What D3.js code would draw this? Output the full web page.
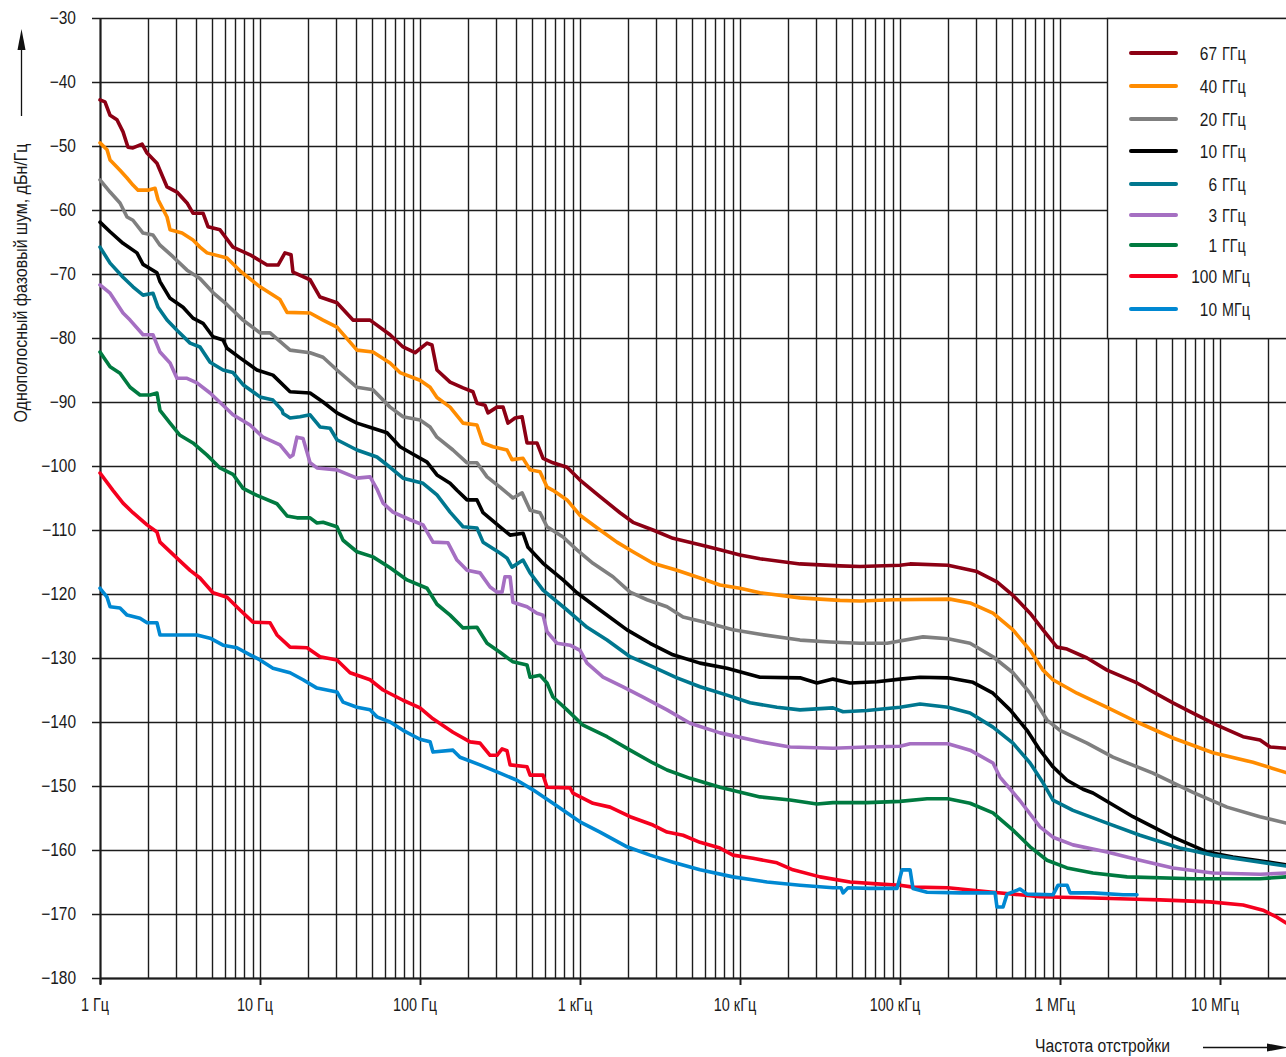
<!DOCTYPE html>
<html>
<head>
<meta charset="utf-8">
<script src="https://cdn.jsdelivr.net/npm/d3@7"></script>
<style>
    html, body { margin: 0; padding: 0; background: #fff; }
    svg { display: block; }
    text { font-family: 'Liberation Sans', Arial, sans-serif; font-size: 18px; fill: #1a1a1a; }
</style>
</head>
<body>
<svg id="chart" width="1286" height="1057"></svg>
<script>
// Each point: [offset frequency as log10(Hz), SSB phase noise in dBc/Hz]
const s67 = [[0,-42.8],[.031,-43.1],[.063,-45.2],[.106,-45.9],[.144,-47.8],[.175,-50.2],[.206,-50.3],[.263,-49.7],[.294,-51.1],[.356,-52.7],[.419,-56.4],[.481,-57.2],[.544,-58.9],[.581,-60.5],[.644,-60.5],[.675,-62.6],[.75,-63.1],[.831,-65.8],[.938,-67],[1.044,-68.6],[1.113,-68.6],[1.156,-66.7],[1.194,-67],[1.206,-69.7],[1.313,-70.9],[1.375,-73.6],[1.481,-74.5],[1.581,-77.2],[1.688,-77.2],[1.813,-79.5],[1.894,-81.4],[1.969,-82.3],[2.044,-80.8],[2.075,-81.1],[2.106,-85],[2.188,-86.9],[2.269,-87.8],[2.331,-88.4],[2.356,-90.2],[2.406,-90.5],[2.425,-91.7],[2.481,-90.8],[2.519,-90.8],[2.55,-93.3],[2.594,-92.5],[2.638,-92.3],[2.669,-96.4],[2.731,-96.4],[2.769,-98.8],[2.831,-99.5],[2.919,-100.2],[3,-102.2],[3.125,-104.8],[3.25,-107.3],[3.331,-108.8],[3.456,-110],[3.581,-111.3],[3.75,-112.3],[3.875,-113.1],[4,-113.9],[4.125,-114.5],[4.375,-115.3],[4.625,-115.6],[4.75,-115.7],[5,-115.5],[5.063,-115.3],[5.3,-115.5],[5.481,-116.5],[5.606,-118.1],[5.706,-120.2],[5.813,-123],[5.894,-125.6],[5.981,-128.3],[6.044,-128.6],[6.169,-130],[6.294,-131.9],[6.481,-133.9],[6.706,-137],[6.831,-138.6],[6.981,-140.5],[7.144,-142.3],[7.25,-142.8],[7.313,-143.9],[7.413,-144.1]];
const s40 = [[0,-49.5],[.044,-50.6],[.063,-52.2],[.125,-53.8],[.169,-55],[.206,-56.1],[.238,-56.9],[.3,-56.9],[.344,-56.6],[.363,-58.4],[.419,-61.1],[.438,-63.1],[.513,-63.6],[.581,-64.7],[.625,-65.8],[.669,-66.7],[.794,-67.5],[.875,-69.5],[1,-72],[1.125,-74],[1.169,-76],[1.313,-76.1],[1.394,-77.2],[1.481,-78.3],[1.606,-81.9],[1.706,-82.2],[1.813,-83.9],[1.875,-85.4],[2,-86.6],[2.063,-87.7],[2.106,-89.3],[2.188,-90.8],[2.269,-93.3],[2.356,-93.6],[2.394,-96.4],[2.456,-97],[2.544,-97.5],[2.575,-99],[2.644,-98.8],[2.688,-100.6],[2.75,-100.9],[2.794,-103.3],[2.831,-103.8],[2.919,-105.3],[3,-107.7],[3.125,-110],[3.231,-111.9],[3.331,-113.4],[3.456,-115.2],[3.606,-116.3],[3.75,-117.5],[3.875,-118.6],[4,-119.1],[4.125,-119.8],[4.375,-120.6],[4.625,-121],[4.75,-121.1],[4.956,-120.9],[5.313,-120.8],[5.438,-121.4],[5.581,-123],[5.706,-125.6],[5.813,-128.8],[5.894,-131.9],[5.956,-133.4],[6.106,-135.5],[6.294,-137.7],[6.481,-140],[6.706,-142.5],[6.956,-144.8],[7.206,-146.3],[7.413,-147.9]];
const s20 = [[0,-55.3],[.063,-57.2],[.125,-58.9],[.169,-61.1],[.206,-61.6],[.269,-63.6],[.331,-63.9],[.375,-65.5],[.456,-67.3],[.544,-69.4],[.625,-70.7],[.706,-72.9],[.794,-74.8],[.894,-77.2],[1,-79.2],[1.063,-79.2],[1.188,-81.9],[1.313,-82.3],[1.394,-83],[1.481,-85],[1.606,-87.7],[1.706,-88.1],[1.813,-90.8],[1.894,-92.3],[2,-92.8],[2.063,-93.9],[2.106,-95.5],[2.206,-97.5],[2.294,-99.5],[2.356,-99.5],[2.419,-101.7],[2.5,-103.3],[2.581,-105],[2.638,-104.2],[2.688,-106.9],[2.75,-107.3],[2.794,-109.5],[2.894,-111.1],[2.981,-113.1],[3.081,-115.2],[3.206,-117.3],[3.313,-119.7],[3.419,-120.9],[3.544,-122],[3.644,-123.6],[3.794,-124.5],[3.956,-125.6],[4.125,-126.3],[4.375,-127.2],[4.563,-127.5],[4.75,-127.7],[4.919,-127.7],[5.144,-126.7],[5.3,-127],[5.438,-127.7],[5.581,-129.8],[5.706,-132.3],[5.813,-135.5],[5.919,-139.7],[6,-141.3],[6.169,-143.3],[6.331,-145.5],[6.581,-148],[6.831,-151],[7.044,-153.3],[7.25,-154.8],[7.413,-155.8]];
const s10 = [[0,-61.9],[.063,-63.4],[.144,-65.2],[.231,-66.7],[.269,-68.5],[.356,-69.8],[.375,-71.2],[.438,-73.8],[.519,-75.2],[.581,-76.9],[.644,-77.7],[.706,-79.8],[.769,-80.3],[.794,-81.6],[.875,-83.1],[.981,-85],[1.081,-85.8],[1.188,-88.4],[1.313,-88.6],[1.394,-90],[1.481,-91.7],[1.606,-93.3],[1.706,-94.1],[1.794,-94.8],[1.875,-97],[1.938,-97.9],[2.044,-99.4],[2.106,-101.4],[2.188,-102.7],[2.231,-103.8],[2.294,-105.3],[2.356,-105.3],[2.394,-107.3],[2.5,-109.5],[2.563,-110.8],[2.644,-110.5],[2.675,-112.7],[2.769,-115.2],[2.894,-117.8],[2.981,-119.8],[3.125,-122.5],[3.294,-125.6],[3.438,-127.7],[3.581,-129.5],[3.75,-130.8],[3.919,-131.6],[4.125,-133],[4.375,-133.1],[4.481,-133.9],[4.581,-133.3],[4.688,-133.9],[4.856,-133.7],[5,-133.3],[5.125,-133],[5.3,-133.1],[5.456,-133.8],[5.581,-135.5],[5.688,-138.1],[5.794,-141.3],[5.875,-144.4],[5.956,-147],[6.044,-149.1],[6.144,-150.5],[6.206,-151.1],[6.456,-154.8],[6.706,-158],[6.919,-160.3],[7.081,-161.1],[7.413,-162.3]];
const s6 = [[0,-65.8],[.063,-68.3],[.144,-70.5],[.206,-72],[.269,-73.3],[.331,-73],[.363,-75.2],[.419,-77.2],[.481,-78.8],[.563,-80.8],[.625,-81.4],[.688,-83.8],[.769,-85],[.831,-85.4],[.894,-87.3],[1,-89.2],[1.081,-89.7],[1.138,-91.3],[1.144,-91.8],[1.188,-92.5],[1.25,-92.3],[1.313,-92],[1.375,-93.9],[1.438,-94.1],[1.481,-95.9],[1.606,-97.5],[1.731,-98.6],[1.813,-100.2],[1.894,-101.9],[2.019,-102.7],[2.106,-104.5],[2.188,-107.2],[2.269,-109.5],[2.356,-109.7],[2.394,-111.9],[2.5,-113.6],[2.544,-114.4],[2.575,-115.8],[2.644,-114.7],[2.688,-116.7],[2.769,-119.4],[2.919,-122.5],[3.044,-125.2],[3.169,-127.2],[3.313,-129.8],[3.456,-131.4],[3.606,-133.1],[3.75,-134.5],[3.919,-135.8],[4.063,-137],[4.231,-137.7],[4.375,-138.1],[4.581,-137.8],[4.644,-138.4],[4.794,-138.2],[5,-137.7],[5.125,-137.2],[5.3,-137.7],[5.438,-138.6],[5.581,-140.8],[5.706,-143.3],[5.813,-146.4],[5.894,-149.5],[5.956,-152.2],[6.081,-153.8],[6.294,-155.8],[6.5,-157.7],[6.75,-159.7],[6.956,-160.8],[7.169,-161.6],[7.413,-162.5]];
const s3 = [[0,-71.7],[.063,-73],[.144,-76.1],[.188,-77.2],[.269,-79.5],[.331,-79.5],[.375,-82.2],[.438,-83.9],[.481,-86.3],[.544,-86.3],[.606,-87],[.688,-88.6],[.769,-90.5],[.831,-92],[.938,-93.6],[1.019,-95.5],[1.125,-96.7],[1.188,-98.6],[1.206,-98.3],[1.231,-95.5],[1.269,-95.7],[1.313,-99.5],[1.356,-100.3],[1.481,-100.6],[1.606,-101.9],[1.688,-101.7],[1.731,-103.6],[1.769,-105.8],[1.831,-107.2],[1.938,-108.4],[2.019,-109.2],[2.081,-111.9],[2.175,-112],[2.231,-114.7],[2.294,-116.3],[2.375,-116.7],[2.438,-118.9],[2.481,-119.7],[2.513,-119.7],[2.531,-117.3],[2.563,-117.3],[2.581,-121.3],[2.669,-122],[2.731,-123],[2.769,-123.3],[2.794,-125.9],[2.856,-127.7],[2.938,-128],[3,-128.8],[3.044,-130.8],[3.144,-133],[3.269,-134.5],[3.394,-136.1],[3.544,-138.1],[3.688,-140.2],[3.875,-141.7],[4.125,-143.1],[4.313,-143.9],[4.581,-144.1],[4.794,-143.9],[5,-143.8],[5.063,-143.4],[5.3,-143.4],[5.438,-144.4],[5.581,-146.4],[5.625,-148.6],[5.75,-152.3],[5.875,-156.4],[5.956,-158],[6.081,-159.2],[6.294,-160.3],[6.5,-161.6],[6.706,-162.8],[6.956,-163.6],[7.25,-163.8],[7.413,-163.6]];
const s1 = [[0,-82.2],[.063,-84.5],[.125,-85.5],[.188,-87.7],[.25,-88.9],[.313,-88.9],[.356,-88.6],[.375,-91.3],[.438,-93.3],[.5,-95.2],[.581,-96.4],[.669,-98.3],[.75,-100.3],[.831,-101.3],[.894,-103.5],[.981,-104.6],[1.106,-105.9],[1.169,-107.8],[1.231,-108.1],[1.313,-108.1],[1.356,-108.9],[1.394,-108.8],[1.481,-109.5],[1.519,-111.6],[1.606,-113.4],[1.706,-114.2],[1.813,-115.9],[1.919,-117.8],[2.044,-119.1],[2.106,-121.6],[2.188,-123.3],[2.269,-125.3],[2.356,-125.2],[2.419,-127.7],[2.5,-129.1],[2.581,-130.6],[2.669,-131.1],[2.688,-133],[2.75,-132.7],[2.794,-133.9],[2.831,-136.1],[2.919,-138.1],[3.019,-140.5],[3.169,-142.3],[3.313,-144.4],[3.456,-146.4],[3.544,-147.5],[3.688,-148.8],[3.875,-150.2],[4.125,-151.7],[4.313,-152.2],[4.481,-152.8],[4.581,-152.6],[4.794,-152.6],[5,-152.4],[5.169,-152],[5.3,-152],[5.438,-152.7],[5.581,-154.2],[5.706,-156.9],[5.813,-159.5],[5.919,-161.6],[6.044,-162.8],[6.206,-163.6],[6.419,-164.2],[6.831,-164.5],[7.25,-164.5],[7.413,-164.2]];
const s100m = [[0,-101.1],[.081,-103.8],[.144,-105.8],[.206,-107.3],[.294,-109.2],[.356,-110.3],[.375,-111.9],[.481,-114.4],[.563,-116.3],[.625,-117.5],[.706,-119.8],[.794,-120.5],[.875,-122.5],[.956,-124.4],[1.063,-124.5],[1.106,-126.4],[1.188,-128.3],[1.294,-128.4],[1.375,-129.8],[1.481,-130.3],[1.563,-132.3],[1.688,-133.4],[1.769,-135],[1.894,-136.6],[2,-137.8],[2.081,-139.5],[2.206,-141.6],[2.313,-143.1],[2.375,-143.3],[2.438,-145.2],[2.481,-145.2],[2.513,-144.2],[2.544,-144.5],[2.563,-146.7],[2.669,-147],[2.688,-148.3],[2.769,-148.3],[2.794,-150.2],[2.938,-150.3],[2.956,-151.1],[3.081,-152.7],[3.188,-153.3],[3.313,-154.8],[3.456,-156.1],[3.544,-157.2],[3.644,-157.7],[3.75,-158.8],[3.875,-159.7],[3.956,-160.8],[4.081,-161.3],[4.231,-162],[4.331,-163.1],[4.5,-164.2],[4.688,-165],[4.856,-165.3],[5,-165.5],[5.081,-165.8],[5.3,-165.9],[5.581,-166.6],[5.75,-167],[5.875,-167.3],[6.206,-167.5],[6.481,-167.7],[6.625,-167.8],[6.938,-168.1],[7.144,-168.6],[7.269,-169.4],[7.356,-170.5],[7.413,-171.4]];
const s10m = [[0,-119.1],[.044,-120.5],[.063,-122],[.125,-122.2],[.169,-123.3],[.25,-123.8],[.294,-124.5],[.356,-124.5],[.375,-126.4],[.606,-126.4],[.688,-126.9],[.769,-128],[.856,-128.4],[.938,-129.5],[1,-130.3],[1.081,-131.6],[1.188,-132.3],[1.269,-133.4],[1.356,-134.7],[1.481,-135.3],[1.519,-136.9],[1.606,-137.7],[1.688,-138.1],[1.731,-139.2],[1.813,-140],[1.894,-141.3],[2,-142.7],[2.063,-143.1],[2.081,-144.7],[2.206,-144.4],[2.25,-145.5],[2.375,-146.7],[2.5,-148],[2.606,-149.1],[2.706,-150.6],[2.831,-152.7],[3,-155.6],[3.125,-157.2],[3.294,-159.5],[3.438,-160.8],[3.581,-161.9],[3.75,-163.1],[3.956,-164.2],[4.169,-165],[4.375,-165.5],[4.581,-165.9],[4.631,-165.9],[4.644,-166.7],[4.675,-165.9],[4.813,-166],[4.981,-166],[5.013,-163.1],[5.063,-163.1],[5.081,-166],[5.169,-166.6],[5.375,-166.7],[5.594,-166.7],[5.606,-168.9],[5.644,-168.9],[5.669,-166.9],[5.75,-166.1],[5.794,-166.9],[5.956,-167],[5.988,-165.5],[6.044,-165.5],[6.063,-166.7],[6.206,-166.7],[6.394,-167],[6.481,-167]];

const seriesData = [s67, s40, s20, s10, s6, s3, s1, s100m, s10m];
const legendNumbers = ['67', '40', '20', '10', '6', '3', '1', '100', '10'];
const legendUnits = ['ГГц', 'ГГц', 'ГГц', 'ГГц', 'ГГц', 'ГГц', 'ГГц', 'МГц', 'МГц'];
const seriesColors = ['#8c0014', '#ff8c00', '#7f7f7f', '#000000', '#00778f', '#a56fc2', '#007a40', '#f5001e', '#0088d2'];
const yTicks = d3.range(-30, -181, -10);
const xDecades = [1, 10, 100, 1e3, 1e4, 1e5, 1e6, 1e7];
const xTickLabels = ['1 Гц', '10 Гц', '100 Гц', '1 кГц', '10 кГц', '100 кГц', '1 МГц', '10 МГц'];

const svg = d3.select('#chart');
const plotLeft = 100, plotTop = 18, plotBottom = 978, plotRight = 1286;

// narrow face: squeeze plain Liberation Sans horizontally
function squeeze(sel, k) {
    sel.each(function() {
        const w = this.getComputedTextLength();
        d3.select(this).attr('textLength', w * k).attr('lengthAdjust', 'spacingAndGlyphs');
    });
}

// 160 px per decade; the plot runs off the right edge of the picture
const x = d3.scaleLog().domain([1, Math.pow(10, (plotRight - plotLeft) / 160)]).range([plotLeft, plotRight]);
const y = d3.scaleLinear().domain([-180, -30]).range([plotBottom, plotTop]);

// vertical grid: 1..9 per decade
const gridX = [];
xDecades.forEach(function(dec) {
    for (let k = 1; k < 10; k++) {
        if (dec * k <= x.domain()[1]) gridX.push(dec * k);
    }
});

const grid = svg.append('g').attr('stroke', '#1c1c1c').attr('stroke-width', 1.4);
grid.selectAll('line.v').data(gridX).enter().append('line')
    .attr('class', 'v')
    .attr('x1', d => Math.round(x(d)) + 0.5).attr('x2', d => Math.round(x(d)) + 0.5)
    .attr('y1', plotTop).attr('y2', plotBottom);
grid.selectAll('line.h').data(yTicks).enter().append('line')
    .attr('class', 'h')
    .attr('x1', plotLeft - 8).attr('x2', plotRight)
    .attr('y1', d => Math.round(y(d)) + 0.5).attr('y2', d => Math.round(y(d)) + 0.5);
// decade ticks below the frequency axis
grid.selectAll('line.t').data(xDecades).enter().append('line')
    .attr('class', 't')
    .attr('x1', d => Math.round(x(d)) + 0.5).attr('x2', d => Math.round(x(d)) + 0.5)
    .attr('y1', plotBottom).attr('y2', plotBottom + 7)
    .attr('stroke-width', 2);
svg.append('line')
    .attr('x1', plotLeft + 0.5).attr('x2', plotLeft + 0.5).attr('y1', plotTop).attr('y2', plotBottom + 6)
    .attr('stroke', '#1c1c1c').attr('stroke-width', 2);
svg.append('line')
    .attr('x1', plotLeft).attr('x2', plotRight).attr('y1', plotBottom + 0.5).attr('y2', plotBottom + 0.5)
    .attr('stroke', '#1c1c1c').attr('stroke-width', 2);

// tick labels
const fmt = d3.format('d');
svg.selectAll('text.ylab').data(yTicks).enter().append('text')
    .attr('class', 'ylab')
    .attr('x', 76).attr('y', d => y(d) + 6)
    .attr('text-anchor', 'end')
    .text(d => fmt(d))
    .call(squeeze, 0.86);
svg.selectAll('text.xlab').data(xDecades).enter().append('text')
    .attr('class', 'xlab')
    .attr('x', d => x(d) - 5).attr('y', plotBottom + 33)
    .attr('text-anchor', 'middle')
    .text((d, i) => xTickLabels[i])
    .call(squeeze, 0.8);

// curves
const line = d3.line()
    .x(d => x(Math.pow(10, d[0])))
    .y(d => y(d[1]));
svg.append('g').selectAll('path').data(seriesData).enter().append('path')
    .attr('d', line)
    .attr('fill', 'none')
    .attr('stroke', (d, i) => seriesColors[i])
    .attr('stroke-width', 3.6)
    .attr('stroke-linejoin', 'round')
    .attr('stroke-linecap', 'round');

// legend
const legend = svg.append('g');
legend.append('rect')
    .attr('x', 1107.5).attr('y', plotTop + 0.5).attr('width', 200).attr('height', 320)
    .attr('fill', '#fff').attr('stroke', '#1c1c1c').attr('stroke-width', 1.4);
const legendY = [53, 86, 119, 151, 184, 215, 245, 276, 309];
const rows = legend.selectAll('g.row').data(legendNumbers).enter().append('g')
    .attr('class', 'row')
    .attr('transform', (d, i) => 'translate(0,' + legendY[i] + ')');
rows.append('line')
    .attr('x1', 1131).attr('x2', 1176).attr('y1', 0).attr('y2', 0)
    .attr('stroke', (d, i) => seriesColors[i])
    .attr('stroke-width', 4)
    .attr('stroke-linecap', 'round');
rows.append('text')
    .attr('x', 1217).attr('y', 7)
    .attr('text-anchor', 'end')
    .text(d => d)
    .call(squeeze, 0.86);
rows.append('text')
    .attr('x', 1222).attr('y', 7)
    .text((d, i) => legendUnits[i])
    .call(squeeze, 0.8);

// axis titles with arrows
svg.append('text')
    .attr('transform', 'translate(27,283) rotate(-90)')
    .attr('text-anchor', 'middle')
    .attr('textLength', 279).attr('lengthAdjust', 'spacingAndGlyphs')
    .text('Однополосный фазовый шум, дБн/Гц');
svg.append('line')
    .attr('x1', 21.5).attr('x2', 21.5).attr('y1', 116).attr('y2', 48)
    .attr('stroke', '#111').attr('stroke-width', 1.3);
svg.append('path')
    .attr('d', 'M21.5,29 L25.5,50 L17.5,50 Z')
    .attr('fill', '#111');

svg.append('text')
    .attr('x', 1035).attr('y', 1052)
    .attr('textLength', 135).attr('lengthAdjust', 'spacingAndGlyphs')
    .text('Частота отстройки');
svg.append('line')
    .attr('x1', 1203).attr('x2', 1272).attr('y1', 1047.5).attr('y2', 1047.5)
    .attr('stroke', '#111').attr('stroke-width', 1.3);
svg.append('path')
    .attr('d', 'M1288,1047.5 L1267,1043.5 L1267,1051.5 Z')
    .attr('fill', '#111');
</script>
</body>
</html>
